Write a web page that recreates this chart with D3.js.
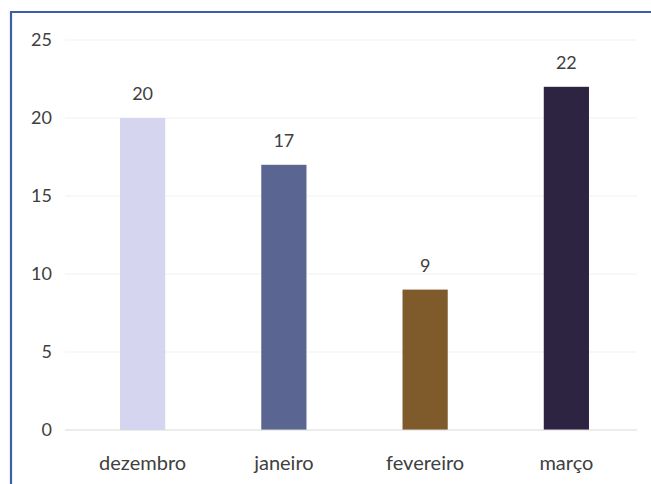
<!DOCTYPE html>
<html><head><meta charset="utf-8">
<script src="https://cdn.jsdelivr.net/npm/d3@7"></script>
<style>body{margin:0;background:#fff;}svg{display:block;}</style>
</head><body>
<svg id="c" width="651" height="484"></svg>
<script>
const categories = ["dezembro", "janeiro", "fevereiro", "março"];
const values = [20, 17, 9, 22];
const colors = ["#D5D5F0", "#5B6591", "#7F5B2B", "#2D2441"];
const yTicks = [0, 5, 10, 15, 20, 25];

const svg = d3.select("#c");
const font = "Lato, 'Open Sans', sans-serif";
const x = d3.scaleBand().domain(categories).range([72, 637]).paddingInner(0.68).paddingOuter(0.34);
const y = d3.scaleLinear().domain([0, 25]).range([430, 40]);

// frame
svg.append("line").attr("x1", 10).attr("x2", 651).attr("y1", 12).attr("y2", 12).attr("stroke", "#3C5FA8").attr("stroke-width", 2.2);
svg.append("line").attr("x1", 11).attr("x2", 11).attr("y1", 11).attr("y2", 484).attr("stroke", "#3C5FA8").attr("stroke-width", 2.2);

// gridlines
svg.append("g").selectAll("line").data(yTicks.filter(d => d > 0)).join("line")
  .attr("x1", 65).attr("x2", 637).attr("y1", d => y(d)).attr("y2", d => y(d))
  .attr("stroke", "#F1F1F1").attr("stroke-width", 1);

// y axis
const ya = svg.append("g").attr("transform", "translate(56,0)")
  .call(d3.axisLeft(y).tickValues(yTicks).tickSize(0).tickPadding(4));
ya.select(".domain").remove();
ya.selectAll("text").attr("font-family", font).attr("font-size", 18).attr("fill", "#404040");

// bars
svg.append("g").selectAll("rect").data(values).join("rect")
  .attr("x", (d, i) => x(categories[i])).attr("width", x.bandwidth())
  .attr("y", d => y(d)).attr("height", d => y(0) - y(d))
  .attr("fill", (d, i) => colors[i]);

// baseline
svg.append("line").attr("x1", 65).attr("x2", 637).attr("y1", y(0)).attr("y2", y(0)).attr("stroke", "#D9D9D9").attr("stroke-width", 1.2);

// value labels
svg.append("g").selectAll("text").data(values).join("text")
  .attr("x", (d, i) => x(categories[i]) + x.bandwidth() / 2).attr("y", d => y(d) - 18)
  .attr("text-anchor", "middle").attr("font-family", font).attr("font-size", 18).attr("fill", "#404040")
  .text(d => d);

// x axis
const xa = svg.append("g").attr("transform", `translate(0,${y(0)})`)
  .call(d3.axisBottom(x).tickSize(0).tickPadding(26));
xa.select(".domain").remove();
xa.selectAll("text").attr("font-family", font).attr("font-size", 20).attr("fill", "#404040");
</script>
</body></html>
